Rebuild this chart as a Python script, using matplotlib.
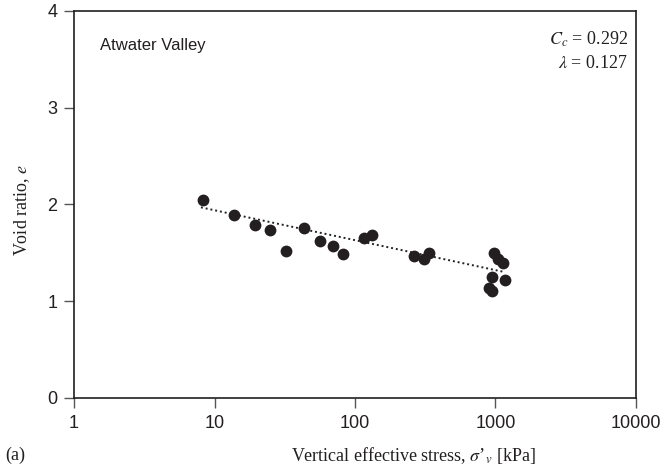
import matplotlib
matplotlib.use("Agg")
import matplotlib.pyplot as plt

plt.rcParams['mathtext.fontset'] = 'stix'

# vertical effective stress [kPa] and void ratio
stress = [8.3, 13.8, 19.4, 24.8, 32.3, 43.4, 56.3, 69.7, 82.2, 116, 132,
          263, 310, 336, 975, 1042, 1130, 944, 1169, 899, 944]
void_ratio = [2.05, 1.89, 1.79, 1.74, 1.52, 1.76, 1.62, 1.57, 1.49, 1.65, 1.68,
              1.47, 1.44, 1.50, 1.50, 1.44, 1.39, 1.25, 1.22, 1.14, 1.11]

# fitted line end points
fit_stress = [8.0, 1170]
fit_e = [1.97, 1.30]

site = "Atwater Valley"
cc_text = r"$C_c$ = 0.292"
lam_text = r"$\lambda$ = 0.127"

fig = plt.figure(figsize=(6.67, 4.72), dpi=100)
ax = fig.add_axes([0.111, 0.157, 0.8425, 0.8197])

ax.plot(fit_stress, fit_e, linestyle=(0, (1, 1.5)), color='#222222', lw=1.4)
ax.plot(stress, void_ratio, 'o', color='#231f20', ms=8.5, mew=0)

ax.set_xscale('log')
ax.set_xlim(1, 10000)
ax.set_ylim(0, 4)
ax.set_xticks([1, 10, 100, 1000, 10000])
ax.set_xticklabels(['1', '10', '100', '1000', '10000'])
ax.minorticks_off()
ax.set_yticks([0, 1, 2, 3, 4])

for s in ax.spines.values():
    s.set_linewidth(1.2)
    s.set_color('#231f20')
ax.tick_params(direction='out', length=7, width=1.0, color='#555555',
               labelsize=13, pad=5, labelcolor='#231f20')
for lab in ax.get_xticklabels() + ax.get_yticklabels():
    lab.set_fontfamily('Liberation Sans')

ax.text(0.047, 0.91, site, transform=ax.transAxes, fontsize=12,
        family='Liberation Sans', color='#231f20', va='center')
ax.text(0.985, 0.926, cc_text, transform=ax.transAxes, fontsize=13,
        family='Liberation Serif', ha='right', va='center', color='#231f20')
ax.text(0.985, 0.864, lam_text, transform=ax.transAxes, fontsize=13,
        family='Liberation Serif', ha='right', va='center', color='#231f20')

fig.text(0.033, 0.555, r"Void ratio, $e$", rotation=90, ha='center', va='center',
         fontsize=13, family='Liberation Serif', color='#231f20')
fig.text(0.62, 0.035, r"Vertical effective stress, $\sigma$’$_v$ [kPa]",
         ha='center', va='center', fontsize=13, family='Liberation Serif',
         color='#231f20')
fig.text(0.008, 0.035, "(a)", ha='left', va='center', fontsize=13,
         family='Liberation Serif', color='#231f20')

fig.savefig('out.png', dpi=100)
